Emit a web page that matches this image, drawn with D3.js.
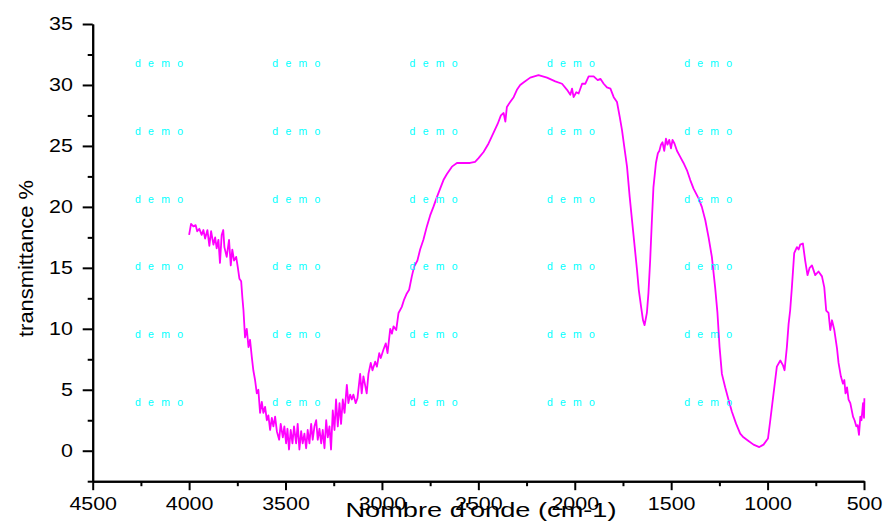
<!DOCTYPE html>
<html>
<head>
<meta charset="utf-8">
<script src="https://cdn.jsdelivr.net/npm/d3@7"></script>
<style>
  html, body { margin: 0; padding: 0; background: #fff; }
  svg { display: block; }
  text { font-family: "Liberation Sans", Arial, sans-serif; }
</style>
</head>
<body>
<svg id="chart" width="884" height="526"></svg>
<script>
'use strict'

// IR spectrum
const wavenumber = [
  4000, 3990, 3978, 3966, 3958, 3947, 3935, 3926, 3917, 3905, 3895, 3886, 3874, 3865, 3857, 3848,
  3840, 3831, 3823, 3817, 3805, 3793, 3784, 3776, 3767, 3756, 3748, 3739, 3730, 3724, 3718, 3710,
  3701, 3692, 3684, 3675, 3667, 3658, 3649, 3641, 3632, 3623, 3615, 3606, 3597, 3589, 3580, 3571,
  3563, 3554, 3545, 3533, 3525, 3514, 3506, 3497, 3490, 3482, 3473, 3464, 3456, 3445, 3437, 3428,
  3419, 3411, 3402, 3393, 3385, 3376, 3367, 3359, 3350, 3341, 3333, 3324, 3315, 3307, 3298, 3289,
  3281, 3272, 3264, 3255, 3246, 3238, 3229, 3220, 3212, 3203, 3194, 3182, 3174, 3165, 3156, 3148,
  3136, 3127, 3113, 3105, 3096, 3079, 3070, 3058, 3049, 3035, 3026, 3014, 3006, 2992, 2980, 2971,
  2957, 2948, 2940, 2926, 2914, 2897, 2885, 2871, 2859, 2845, 2833, 2816, 2802, 2785, 2767, 2750,
  2733, 2715, 2698, 2681, 2663, 2637, 2611, 2577, 2543, 2517, 2499, 2473, 2447, 2421, 2400, 2383,
  2369, 2360, 2352, 2335, 2317, 2300, 2283, 2266, 2231, 2188, 2144, 2101, 2066, 2040, 2023, 2014,
  2006, 1992, 1980, 1962, 1945, 1928, 1902, 1881, 1867, 1850, 1833, 1815, 1798, 1781, 1767, 1755,
  1743, 1729, 1715, 1703, 1691, 1677, 1668, 1656, 1646, 1638, 1626, 1618, 1609, 1600, 1592, 1579,
  1569, 1561, 1553, 1545, 1536, 1527, 1519, 1510, 1501, 1493, 1483, 1470, 1453, 1436, 1418, 1401,
  1384, 1358, 1341, 1323, 1306, 1289, 1272, 1260, 1249, 1237, 1220, 1203, 1185, 1163, 1142, 1125,
  1099, 1073, 1043, 1021, 998, 986, 969, 952, 934, 920, 912, 900, 891, 883, 874, 862,
  848, 839, 831, 817, 805, 793, 782, 770, 753, 736, 718, 706, 696, 684, 675, 666,
  654, 640, 632, 620, 609, 602, 596, 588, 580, 571, 557, 549, 540, 533, 526, 519,
  513, 505, 500, 498
];
const transmittance = [
  17.7, 18.6, 18.4, 18.5, 18.0, 18.2, 17.7, 18.1, 17.4, 18.1, 16.8, 18.0, 16.9, 17.5, 16.6, 17.3,
  15.4, 17.7, 18.1, 16.7, 15.9, 17.3, 15.2, 16.5, 15.6, 15.9, 15.1, 14.1, 13.9, 12.6, 11.5, 9.3,
  10.0, 8.5, 9.1, 7.7, 6.6, 5.8, 4.7, 5.0, 3.1, 4.0, 3.1, 3.6, 2.5, 2.9, 1.7, 2.7,
  2.0, 2.8, 1.6, 0.9, 2.2, 1.1, 2.0, 0.6, 1.8, 0.1, 1.7, 0.6, 2.0, 0.6, 2.2, 0.1,
  1.6, 0.6, 1.4, 0.2, 1.7, 0.6, 2.2, 0.9, 2.0, 2.5, 0.9, 1.8, 0.6, 1.7, 0.2, 2.5,
  1.1, 2.0, 0.1, 3.3, 1.7, 4.2, 2.0, 3.9, 2.2, 4.2, 3.1, 5.4, 3.9, 4.6, 4.2, 4.6,
  3.9, 4.3, 6.3, 4.7, 6.1, 4.7, 6.3, 7.2, 6.6, 7.3, 6.9, 8.0, 7.6, 8.3, 8.8, 8.0,
  10.0, 9.6, 10.2, 9.9, 11.3, 11.8, 12.4, 12.9, 13.2, 14.3, 15.1, 15.6, 16.5, 17.3, 18.4, 19.3,
  20.0, 20.8, 21.5, 22.2, 22.7, 23.3, 23.6, 23.6, 23.6, 23.7, 24.0, 24.5, 25.2, 26.1, 26.8, 27.5,
  27.7, 27.0, 28.2, 28.6, 29.0, 29.6, 30.0, 30.2, 30.6, 30.8, 30.6, 30.3, 30.1, 29.6, 29.2, 29.7,
  29.0, 29.4, 29.3, 30.1, 30.1, 30.7, 30.7, 30.4, 30.5, 30.1, 29.8, 29.7, 29.0, 28.6, 27.4, 26.3,
  24.9, 23.3, 20.8, 18.9, 17.0, 14.8, 13.2, 11.8, 10.7, 10.3, 11.3, 12.9, 15.6, 18.9, 21.6, 23.6,
  24.4, 24.6, 25.1, 25.3, 24.6, 25.6, 25.1, 25.5, 24.8, 25.5, 25.2, 24.6, 24.1, 23.6, 23.0, 22.2,
  21.5, 20.7, 20.0, 18.9, 17.5, 15.9, 13.4, 11.3, 8.5, 6.3, 5.2, 4.2, 3.2, 2.2, 1.4, 1.1,
  0.8, 0.5, 0.3, 0.5, 1.0, 2.5, 4.7, 6.9, 7.4, 7.0, 6.6, 8.5, 10.4, 11.5, 13.4, 16.2,
  16.7, 16.5, 16.9, 17.0, 15.6, 14.4, 15.0, 15.2, 14.4, 14.7, 14.3, 13.4, 11.5, 11.3, 9.9, 10.7,
  9.9, 8.4, 7.2, 6.1, 5.5, 5.8, 4.7, 5.2, 4.2, 3.9, 2.8, 2.5, 2.0, 2.1, 1.3, 2.8,
  2.5, 3.9, 2.7, 4.3
];

const xTicks = [4500, 4000, 3500, 3000, 2500, 2000, 1500, 1000, 500];
const xMinorTicks = [4250, 3750, 3250, 2750, 2250, 1750, 1250, 750];
const yTicks = [0, 5, 10, 15, 20, 25, 30, 35];
const yMinorTicks = [-2.5, 2.5, 7.5, 12.5, 17.5, 22.5, 27.5, 32.5];

const xTitle = 'Nombre d\'onde (cm-1)';
const yTitle = 'transmittance %';
const watermark = 'd e m o';

const svg = d3.select('#chart');

const x = d3.scaleLinear().domain([4500, 500]).range([92.7, 864]);
const y = d3.scaleLinear().domain([-2.5, 35]).range([481.2, 24]);

const points = wavenumber.map((w, i) => [w, transmittance[i]]);

// labels in the picture are drawn wider than normal glyphs
const stretch = 1.19;

function styleAxis (g) {
  g.select('.domain').attr('stroke', '#000').attr('stroke-width', 2);
  g.selectAll('.tick line').attr('stroke', '#000').attr('stroke-width', 2);
}

// minor ticks first, majors on top
svg.append('g')
  .attr('transform', 'translate(0,' + y(-2.5) + ')')
  .call(d3.axisBottom(x).tickValues(xMinorTicks).tickSize(5).tickSizeOuter(0).tickFormat(''))
  .call(styleAxis);

svg.append('g')
  .attr('transform', 'translate(' + x(4500) + ',0)')
  .call(d3.axisLeft(y).tickValues(yMinorTicks).tickSize(5).tickSizeOuter(0).tickFormat(''))
  .call(styleAxis);

const xAxis = svg.append('g')
  .attr('transform', 'translate(0,' + y(-2.5) + ')')
  .call(d3.axisBottom(x).tickValues(xTicks).tickSize(9).tickSizeOuter(0).tickFormat(d3.format('d')))
  .call(styleAxis);

xAxis.selectAll('.tick text')
  .attr('fill', '#000')
  .attr('font-size', 18)
  .attr('font-family', '"Liberation Sans", Arial, sans-serif')
  .attr('y', 16.5)
  .attr('transform', 'scale(' + stretch + ',1)');

const yAxis = svg.append('g')
  .attr('transform', 'translate(' + x(4500) + ',0)')
  .call(d3.axisLeft(y).tickValues(yTicks).tickSize(10).tickSizeOuter(0).tickFormat(d3.format('d')))
  .call(styleAxis);

yAxis.selectAll('.tick text')
  .attr('fill', '#000')
  .attr('font-size', 18)
  .attr('font-family', '"Liberation Sans", Arial, sans-serif')
  .attr('x', -19.8 / stretch)
  .attr('transform', 'scale(' + stretch + ',1)');

// spectrum
const line = d3.line()
  .x(d => x(d[0]))
  .y(d => y(d[1]));

svg.append('path')
  .datum(points)
  .attr('fill', 'none')
  .attr('stroke', '#ff00ff')
  .attr('stroke-width', 1.8)
  .attr('stroke-linejoin', 'round')
  .attr('d', line);

// "demo" watermark grid
const wm = svg.append('g');
for (let r = 0; r < 6; r++) {
  for (let c = 0; c < 5; c++) {
    wm.append('text')
      .attr('x', 135 + c * 137.3)
      .attr('y', 66.7 + r * 67.9)
      .attr('font-size', 10.5)
      .attr('fill', '#00ffff')
      .attr('textLength', 48)
      .attr('lengthAdjust', 'spacing')
      .text(watermark);
  }
}

// axis titles
svg.append('text')
  .attr('x', 481)
  .attr('y', 516.5)
  .attr('text-anchor', 'middle')
  .attr('font-size', 19.5)
  .attr('textLength', 271)
  .attr('lengthAdjust', 'spacingAndGlyphs')
  .attr('fill', '#000')
  .text(xTitle);

svg.append('text')
  .attr('transform', 'translate(33,258.5) rotate(-90)')
  .attr('text-anchor', 'middle')
  .attr('font-size', 20)
  .attr('textLength', 157)
  .attr('lengthAdjust', 'spacingAndGlyphs')
  .attr('fill', '#000')
  .text(yTitle);
</script>
</body>
</html>
